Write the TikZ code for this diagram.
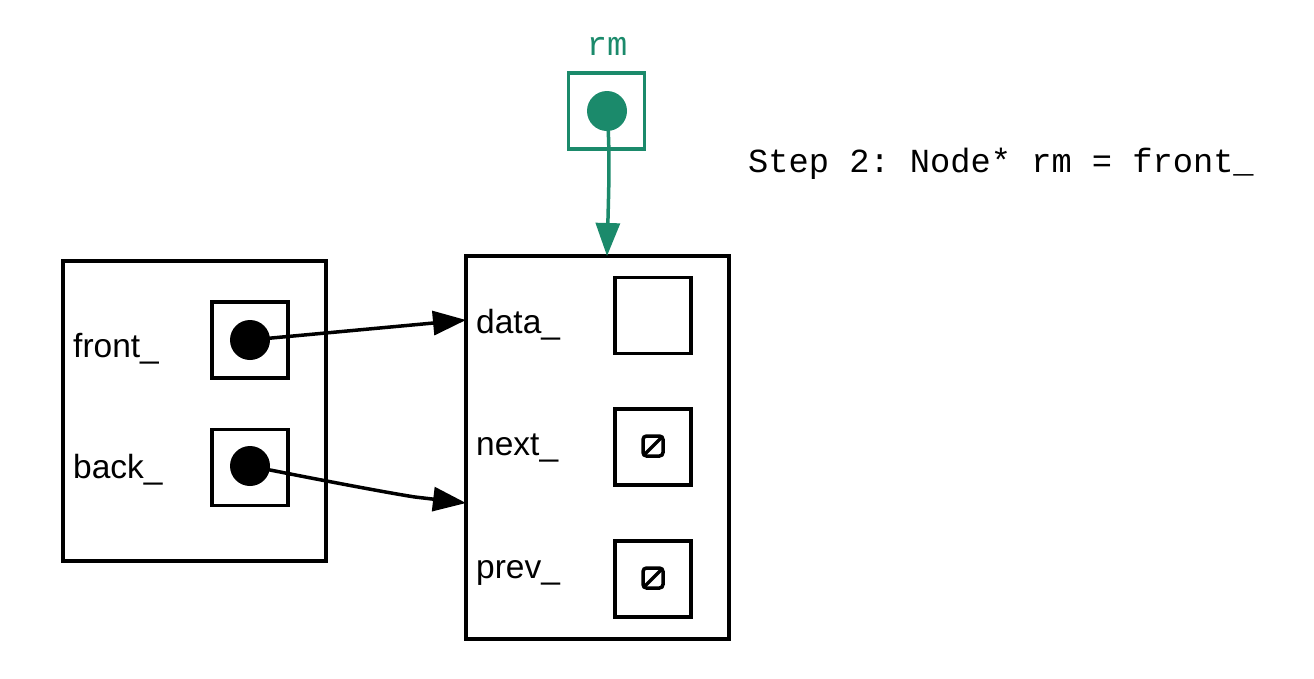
\documentclass[tikz,border=0pt]{standalone}
\usepackage{fontspec}
\setmainfont{Liberation Sans}
\setmonofont{Liberation Mono}
\usetikzlibrary{arrows.meta}
\definecolor{rmgreen}{HTML}{1B8A6B}
\tikzset{
  box/.style={draw, line width=3.5pt, inner sep=0pt, minimum width=#1},
  ptrbox/.style={draw, line width=3.5pt, inner sep=0pt, minimum width=76pt, minimum height=76pt},
  dot/.style={circle, fill, inner sep=0pt, minimum size=40pt},
  lbl/.style={anchor=base west, inner sep=0pt, font=\fontsize{33.5}{40}\selectfont},
  mono/.style={inner sep=0pt, font=\ttfamily\fontsize{33.7}{40}\selectfont},
  ptrarrow/.style={line width=3.5pt, -{Triangle[length=33pt,width=24pt]}},
  nullsym/.style={draw, line width=3.5pt, rounded corners=3.5pt, inner sep=0pt, minimum width=20pt, minimum height=20pt, path picture={\draw[line width=3.5pt] (path picture bounding box.south west) -- (path picture bounding box.north east);}}
}
\begin{document}
\begin{tikzpicture}[x=1pt,y=-1pt]
\useasboundingbox (0,0) rectangle (1314,678);
% list object
\node[box=263pt, minimum height=300pt] (list) at (194.5,411) {};
\node[lbl] (lfront) at (73,357) {front\_};
\node[lbl] (lback) at (73,478) {back\_};
\node[ptrbox] (pfront) at (250,340) {};
\node[ptrbox] (pback) at (250,467.5) {};
\node[dot] (dfront) at (250,340) {};
\node[dot] (dback) at (250,466) {};
% node object
\node[box=263pt, minimum height=383pt] (nd) at (597.5,447.5) {};
\node[lbl] (ldata) at (476,333) {data\_};
\node[lbl] (lnext) at (476,455) {next\_};
\node[lbl] (lprev) at (476,578) {prev\_};
\node[ptrbox] (bdata) at (653,315.5) {};
\node[ptrbox] (bnext) at (653,447) {};
\node[ptrbox] (bprev) at (653,579) {};
\node[nullsym] (nnext) at (653,446) {};
\node[nullsym] (nprev) at (653,578) {};
% rm pointer
\node[mono, text=rmgreen, anchor=base] (lrm) at (607,55) {rm};
\node[ptrbox, draw=rmgreen] (prm) at (606.5,111) {};
\node[dot, fill=rmgreen] (drm) at (607,111) {};
% caption
\node[mono, anchor=base west] (caption) at (748,172) {Step 2: Node* rm = front\_};
% connectors
\coordinate (indata) at (466,320);
\coordinate (inback) at (466,503);
\coordinate (intop) at (607,256);
\draw[ptrarrow] (dfront.center) -- (indata);
\draw[ptrarrow] (dback.center) .. controls (330,482) and (395,494) .. (415,497) -- (inback);
\draw[ptrarrow, draw=rmgreen, fill=rmgreen] (drm.center) .. controls (610,150) and (609,180) .. (intop);
\end{tikzpicture}
\end{document}
